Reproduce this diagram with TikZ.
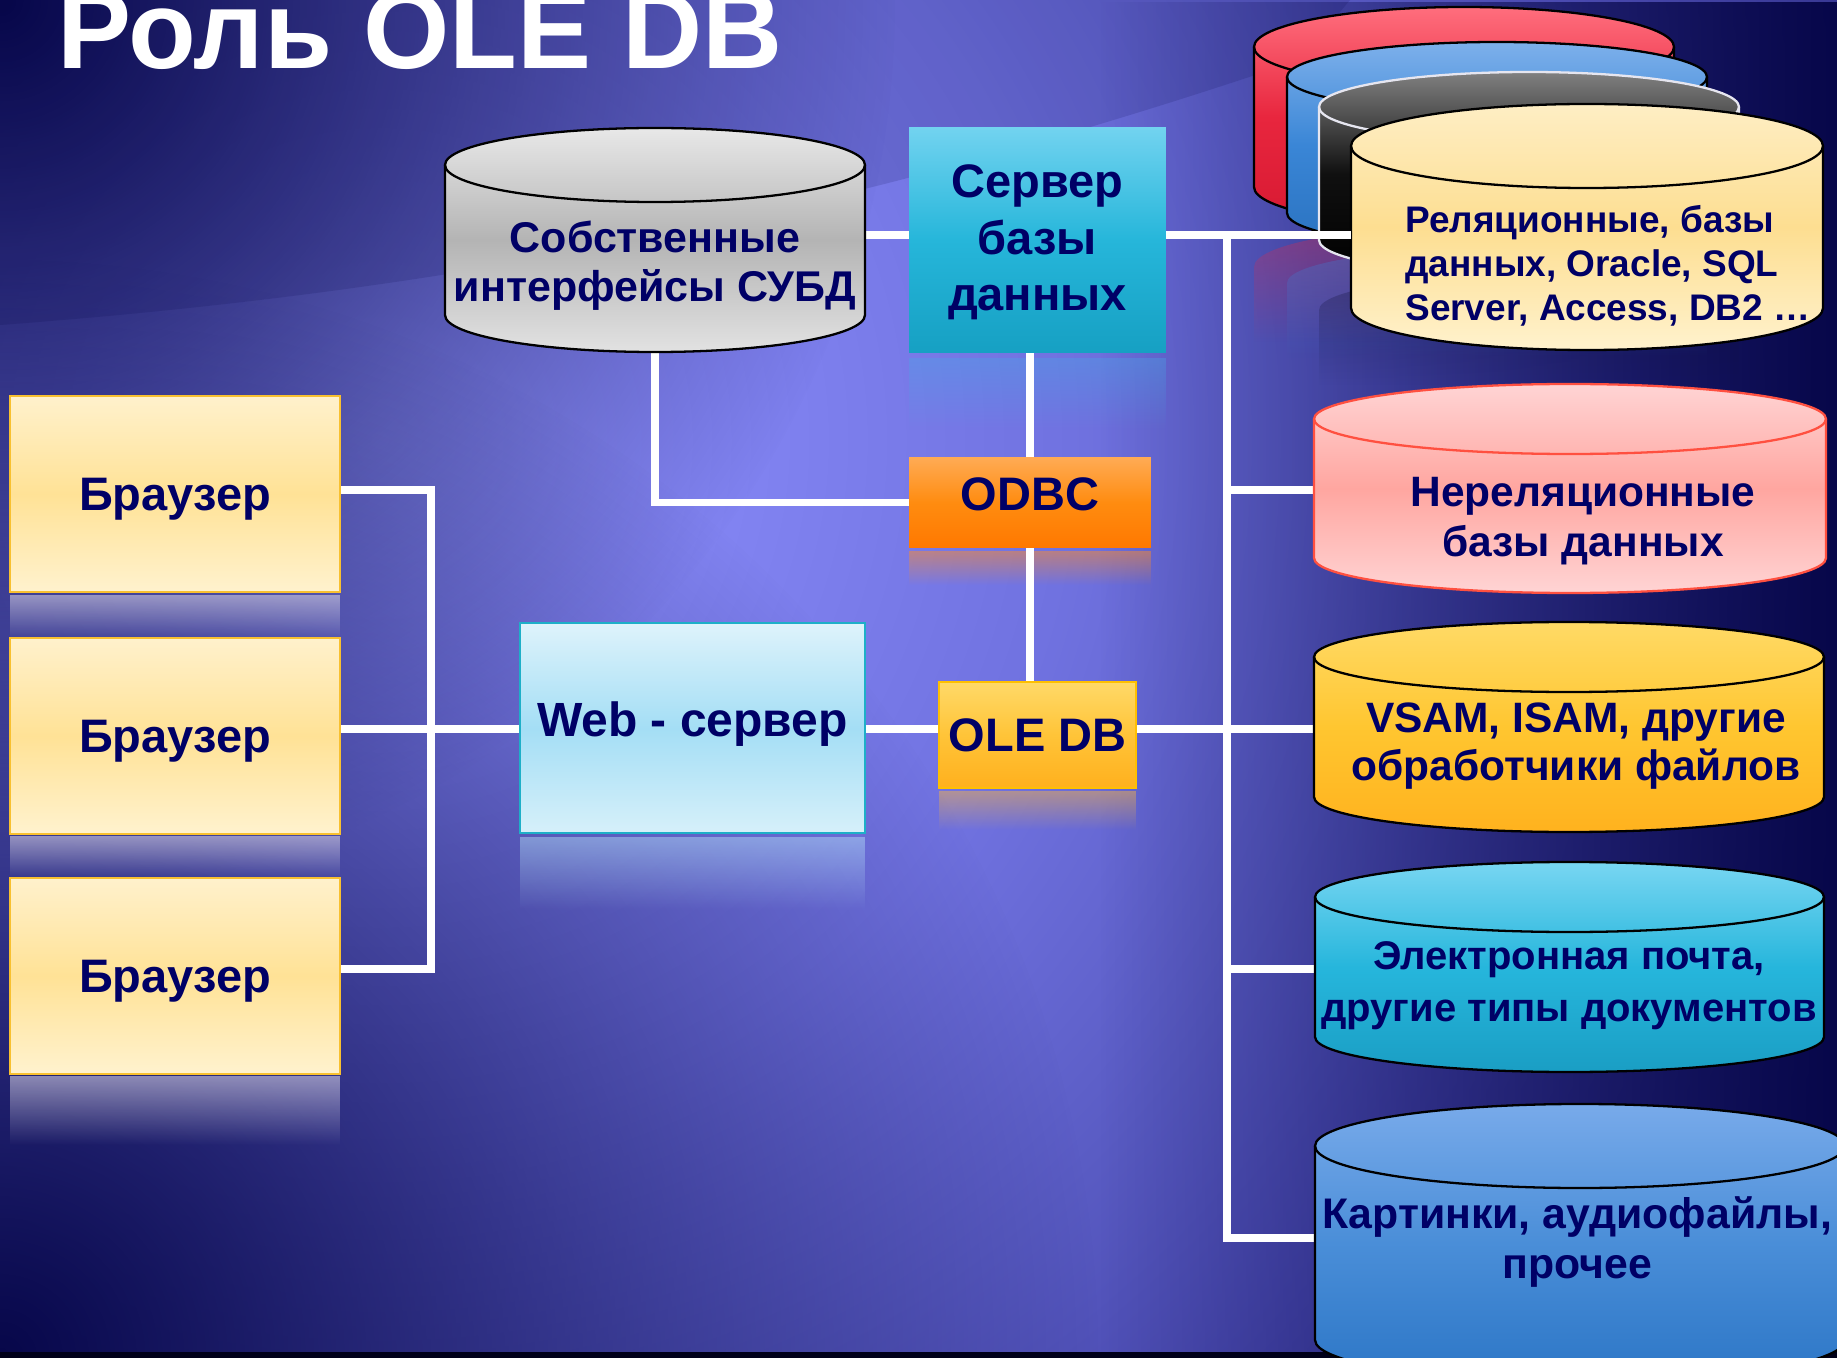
\documentclass[tikz,border=0pt]{standalone}
\usepackage{fontspec}
\setmainfont{Liberation Sans}
\usetikzlibrary{fadings}
\pgfdeclarelayer{back}
\pgfdeclarelayer{wires}
\pgfsetlayers{back,wires,main}
\newdimen\pxu
\pxu=0.569055pt
\newcommand\fs[2]{\fontsize{#1\pxu}{#2\pxu}\selectfont}
\definecolor{navy}{HTML}{000066}
\definecolor{darkN}{HTML}{07074A}
\definecolor{bgA}{HTML}{9498FF}
\definecolor{bgB}{HTML}{8486F4}
\definecolor{bgC}{HTML}{7072E0}
\definecolor{bgD}{HTML}{5A5CC4}
\definecolor{bgE}{HTML}{4A4AB0}
\definecolor{bgF}{HTML}{34348E}
\definecolor{bgG}{HTML}{202070}
\definecolor{bgH}{HTML}{0E0E55}
\definecolor{reflS}{RGB}{70,170,230}
\definecolor{reflO}{RGB}{255,140,40}
\definecolor{reflY}{RGB}{255,184,60}
\definecolor{reflW}{RGB}{184,230,250}
\definecolor{reflB}{RGB}{210,205,225}
\definecolor{reflR}{RGB}{230,40,70}
\definecolor{reflU}{RGB}{60,130,215}
\definecolor{reflK}{RGB}{20,20,60}
\definecolor{blackline}{RGB}{230,230,240}
\definecolor{pinkline}{RGB}{255,80,64}
\pgfdeclareradialshading{bgrad}{\pgfpointorigin}{color(0bp)=(bgA); color(4.2bp)=(bgB); color(9.6bp)=(bgC); color(14bp)=(bgD); color(17.5bp)=(bgE); color(22bp)=(bgF); color(29bp)=(bgG); color(42bp)=(bgH); color(50bp)=(bgH)}
\tikzfading[name=radfade, inner color=transparent!0, outer color=transparent!100]
\tikzfading[name=fadeLR, left color=transparent!100, right color=transparent!0]
\tikzfading[name=fadeTB, top color=transparent!0, bottom color=transparent!100]
% cylinder: cx, ytop-centre, ybottom-centre, rx, ry, fill options, outline colour
\newcommand\dbcyl[7]{%
  \path[#6] (#1-#4,#2) -- (#1-#4,#3) arc[start angle=180,end angle=0,x radius=#4,y radius=#5] -- (#1+#4,#2) arc[start angle=0,end angle=-180,x radius=#4,y radius=#5] -- cycle;
  \draw[draw=#7,line width=1.3pt] (#1-#4,#2) -- (#1-#4,#3) arc[start angle=180,end angle=0,x radius=#4,y radius=#5] -- (#1+#4,#2);
  \draw[draw=#7,line width=1.3pt] (#1,#2) ellipse[x radius=#4,y radius=#5];
}
% reflection under a cylinder: cx, ybottom-centre, rx, ry, colour, opacity
\newcommand\cylrefl[6]{%
  \fill[#5, fill opacity=#6, path fading=fadeTB] (#1-#3,#2+2*#4) arc[start angle=180,end angle=360,x radius=#3,y radius=#4] -- ++(0,75) -- (#1-#3,#2+2*#4+75) -- cycle;
}
\begin{document}
\begin{tikzpicture}[x=0.02cm, y=-0.02cm,
  wire/.style={draw=white, line width=4pt, line cap=rect, line join=miter},
  cylbox/.style={inner sep=0pt, draw=none},
  cyltxt/.style={text=navy, font=\bfseries, align=center, inner sep=0pt, anchor=north},
  browser/.style={rectangle, draw={rgb,255:red,248;green,192;blue,48}, line width=1.4pt,
     top color={rgb,255:red,255;green,241;blue,204}, bottom color={rgb,255:red,255;green,242;blue,206},
     middle color={rgb,255:red,255;green,226;blue,150},
     minimum width=6.6cm, minimum height=3.92cm, inner sep=0pt,
     text=navy, font=\bfseries\fs{47}{56}, text depth=0pt}
]
\useasboundingbox (0,0) rectangle (1837,1358);

% ---------------- background ----------------
\begin{pgfonlayer}{back}
\begin{scope}
  \clip (0,0) rectangle (1837,1358);
  \fill[bgH] (0,0) rectangle (1837,1358);
  \shade[shading=bgrad] (380,440) circle[radius=1800];
  \fill[darkN, path fading=fadeLR] (1100,0) rectangle (1837,1358);
  \fill[darkN, path fading=radfade] (0,0) circle[radius=900];
  \fill[darkN, path fading=radfade] (0,1358) circle[radius=1100];
  \fill[darkN, fill opacity=0.15] (0,0) -- (0,325) .. controls (400,295) and (800,230) .. (1300,60) -- (1350,0) -- cycle;
  \fill[black!90!blue] (0,1352) rectangle (1837,1358);
  % reflections
  \fill[reflS, fill opacity=0.35, path fading=fadeTB] (909,358) rectangle (1166,430);
  \fill[reflO, fill opacity=0.5, path fading=fadeTB] (909,551) rectangle (1151,585);
  \fill[reflY, fill opacity=0.45, path fading=fadeTB] (939,791) rectangle (1136,830);
  \fill[reflW, fill opacity=0.45, path fading=fadeTB] (520,837) rectangle (865,910);
  \fill[reflB, fill opacity=0.6, path fading=fadeTB] (10,595) rectangle (340,640);
  \fill[reflB, fill opacity=0.6, path fading=fadeTB] (10,836) rectangle (340,878);
  \fill[reflB, fill opacity=0.6, path fading=fadeTB] (10,1076) rectangle (340,1145);
  \cylrefl{1464}{187}{210}{40}{reflR}{0.35}
  \cylrefl{1497}{213}{210}{35}{reflU}{0.35}
  \cylrefl{1529}{240}{210}{35}{reflK}{0.35}
\end{scope}
\end{pgfonlayer}

% ---------------- title ----------------
\node[anchor=base west, inner sep=0pt, text=white, font=\bfseries\fs{111}{111}] (title) at (57,69) {Роль OLE DB};

% ---------------- cylinders ----------------
\dbcyl{1464}{47}{187}{210}{40}{top color={rgb,255:red,255;green,110;blue,125}, bottom color={rgb,255:red,215;green,25;blue,50}, middle color={rgb,255:red,232;green,38;blue,62}}{black}
\dbcyl{1497}{77}{213}{210}{35}{top color={rgb,255:red,125;green,176;blue,235}, bottom color={rgb,255:red,42;green,114;blue,192}, middle color={rgb,255:red,58;green,134;blue,214}}{black}
\dbcyl{1529}{107}{240}{210}{35}{top color={rgb,255:red,128;green,128;blue,128}, bottom color=black, middle color={rgb,255:red,16;green,16;blue,16}}{blackline}
\dbcyl{1587}{146}{308}{236}{42}{top color={rgb,255:red,254;green,238;blue,196}, bottom color={rgb,255:red,255;green,242;blue,205}, middle color={rgb,255:red,253;green,222;blue,145}}{black}
\dbcyl{655}{165}{315}{210}{37}{top color={rgb,255:red,232;green,232;blue,232}, bottom color={rgb,255:red,226;green,226;blue,226}, middle color={rgb,255:red,180;green,180;blue,180}}{black}
\dbcyl{1570}{419}{558}{256}{35}{top color={rgb,255:red,255;green,212;blue,212}, bottom color={rgb,255:red,255;green,212;blue,212}, middle color={rgb,255:red,255;green,166;blue,160}}{pinkline}
\dbcyl{1569}{657}{797}{255}{35}{top color={rgb,255:red,255;green,218;blue,102}, bottom color={rgb,255:red,255;green,178;blue,30}, middle color={rgb,255:red,255;green,198;blue,48}}{black}
\dbcyl{1569.5}{897}{1037}{254.5}{35}{top color={rgb,255:red,120;green,214;blue,242}, bottom color={rgb,255:red,26;green,158;blue,196}, middle color={rgb,255:red,38;green,182;blue,220}}{black}
\dbcyl{1580}{1146}{1340}{265}{42}{top color={rgb,255:red,120;green,170;blue,234}, bottom color={rgb,255:red,44;green,118;blue,198}, middle color={rgb,255:red,74;green,142;blue,216}}{black}

% cylinder nodes (outline boxes for connectors) and their texts
\node[cylbox, minimum width=8.4cm, minimum height=4.48cm] (own) at (655,240) {};
\node[cylbox, minimum width=9.44cm, minimum height=4.94cm] (rel) at (1587,226.5) {};
\node[cylbox, minimum width=10.24cm, minimum height=4.18cm] (nonrel) at (1570,488.5) {};
\node[cylbox, minimum width=10.2cm, minimum height=4.2cm] (vsam) at (1569,727) {};
\node[cylbox, minimum width=10.18cm, minimum height=4.2cm] (email) at (1569.5,967) {};
\node[cylbox, minimum width=10.6cm, minimum height=5.56cm] (pics) at (1580,1243) {};

\node[cyltxt, font=\bfseries\fs{43}{49}] (ownT) at (655,221) {Собственные\\интерфейсы СУБД};
\node[cyltxt, font=\bfseries\fs{37}{44}, align=left, anchor=north west] (relT) at (1405,205) {Реляционные, базы\\данных, Oracle, SQL\\Server, Access, DB2 …};
\node[cyltxt, font=\bfseries\fs{42.5}{50}] (nonrelT) at (1583,477) {Нереляционные\\базы данных};
\node[cyltxt, font=\bfseries\fs{42.5}{48}] (vsamT) at (1576,702) {VSAM, ISAM, другие\\обработчики файлов};
\node[cyltxt, font=\bfseries\fs{40}{52}] (emailT) at (1569,941) {Электронная почта,\\другие типы документов};
\node[cyltxt, font=\bfseries\fs{42.8}{50}] (picsT) at (1577,1196) {Картинки, аудиофайлы,\\прочее};

% ---------------- boxes ----------------
\node[browser] (b1) at (175,494) {Браузер};
\node[browser] (b2) at (175,736) {Браузер};
\node[browser] (b3) at (175,976) {Браузер};

\node[rectangle, draw={rgb,255:red,30;green,175;blue,200}, line width=1.5pt,
  top color={rgb,255:red,222;green,243;blue,251}, bottom color={rgb,255:red,214;green,240;blue,250},
  middle color={rgb,255:red,164;green,222;blue,245},
  minimum width=6.9cm, minimum height=4.2cm, inner sep=0pt, text depth=9.7pt,
  text=navy, font=\bfseries\fs{48}{56}] (web) at (692.5,728) {Web - сервер};

\node[rectangle, top color={rgb,255:red,114;green,211;blue,240}, bottom color={rgb,255:red,22;green,160;blue,195},
  middle color={rgb,255:red,38;green,182;blue,218},
  minimum width=5.14cm, minimum height=4.52cm, inner sep=0pt, align=center, text depth=2.5pt,
  text=navy, font=\bfseries\fs{47}{56.5}] (server) at (1037.5,240) {Сервер\\базы\\данных};

\node[rectangle, top color={rgb,255:red,255;green,171;blue,85}, bottom color={rgb,255:red,255;green,120;blue,0},
  middle color={rgb,255:red,255;green,140;blue,16},
  minimum width=4.84cm, minimum height=1.82cm, inner sep=0pt, text depth=9pt,
  text=navy, font=\bfseries\fs{47}{56}] (odbc) at (1030,502.5) {ODBC};

\node[rectangle, draw={rgb,255:red,255;green,192;blue,0}, line width=1pt,
  top color={rgb,255:red,255;green,217;blue,104}, bottom color={rgb,255:red,255;green,176;blue,30},
  middle color={rgb,255:red,255;green,196;blue,56},
  minimum width=3.94cm, minimum height=2.12cm, inner sep=0pt,
  text=navy, font=\bfseries\fs{47}{56}] (oledb) at (1037.5,735) {OLE DB};

% ---------------- junctions ----------------
\coordinate (jb1) at (431,490);
\coordinate (jb2) at (431,729);
\coordinate (jb3) at (431,969);
\coordinate (jtop) at (1227,235);
\coordinate (jn) at (1227,490);
\coordinate (jv) at (1227,729);
\coordinate (je) at (1227,969);
\coordinate (jbot) at (1227,1238);

% ---------------- connectors ----------------
\begin{pgfonlayer}{wires}
  \draw[wire] (b1.east |- jb1) -- (jb1) -- (jb3) -- (b3.east |- jb3);
  \draw[wire] (b2.east |- jb2) -- (web.west |- jb2);
  \draw[wire] (web.east |- jb2) -- (oledb.west |- jb2);
  \draw[wire] (oledb.east |- jv) -- (vsam.west |- jv);
  \draw[wire] (odbc.north) -- (odbc.north |- server.south);
  \draw[wire] (odbc.south) -- (odbc.south |- oledb.north);
  \draw[wire] (own.south) |- (odbc.west);
  \draw[wire] (own.east |- jtop) -- (server.west |- jtop);
  \draw[wire] (jtop) -- (jbot);
  \draw[wire] (jn) -- (nonrel.west |- jn);
  \draw[wire] (je) -- (email.west |- je);
  \draw[wire] (jbot) -- (pics.west |- jbot);
\end{pgfonlayer}
\draw[wire, line cap=butt] (server.east |- jtop) -- (rel.west |- jtop);
\end{tikzpicture}
\end{document}
